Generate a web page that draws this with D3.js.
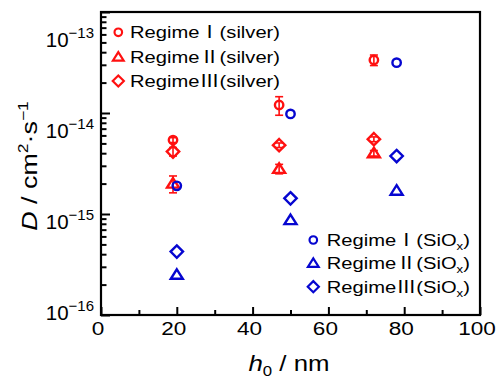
<!DOCTYPE html>
<html>
<head>
<meta charset="utf-8">
<script src="https://cdn.jsdelivr.net/npm/d3@7"></script>
<style>
  body { margin: 0; background: #fff; }
  svg { font-family: "Liberation Sans", Arial, sans-serif; }
</style>
</head>
<body>
<div id="chart"></div>
<script>
// values
var hSilver = [19, 47, 72];
var hSiOx = [20, 50, 78];
var silverI = [5.4e-15, 1.2e-14, 3.35e-14];
var silverIErr = [0.3e-15, 2.5e-15, 4e-15];
var silverII = [2.0e-15, 2.8e-15, 4.0e-15];
var silverIIErr = [0.38e-15, 0.3e-15, 0.25e-15];
var silverIII = [4.15e-15, 4.8e-15, 5.5e-15];
var silverIIIErr = [0.4e-15, 0.25e-15, 0.3e-15];
var siOxI = [1.9e-15, 9.8e-15, 3.15e-14];
var siOxII = [2.5e-16, 8.7e-16, 1.7e-15];
var siOxIII = [4.25e-16, 1.43e-15, 3.75e-15];

var xTicks = [0, 20, 40, 60, 80, 100];
var xMinor = [10, 30, 50, 70, 90];
var yTicks = [1e-16, 1e-15, 1e-14, 1e-13];
var yExp = ["\u221216", "\u221215", "\u221214", "\u221213"];
var regimes = ["\u2160", "\u2161", "\u2162"];
var shapes = ["circle", "triangle", "diamond"];

var red = "#ff1010", blue = "#0606d0";
var W = 499, H = 377;
var pLeft = 101, pRight = 480, pTop = 12, pBottom = 315;

var x = d3.scaleLinear().domain([0, 100]).range([pLeft, pRight]);
var y = d3.scaleLog().domain([1e-16, 1e-13]).range([pBottom, pTop]);
// tick labels in the picture sit on a slightly tighter spacing than the ticks
var yLab = d3.scaleLog().domain([1e-16, 1e-13]).range([320, 47]);

var svg = d3.select("#chart").append("svg")
  .attr("width", W).attr("height", H);

function marker(shape) {
  if (shape == "circle") return "M4.2,0A4.2,4.2 0 1 1 -4.2,0A4.2,4.2 0 1 1 4.2,0Z";
  if (shape == "triangle") return "M0,-5.5L6,4L-6,4Z";
  return "M0,-6.2L6.2,0L0,6.2L-6.2,0Z";
}

// stretched text helper, the picture's text is wider than normal Arial
function sText(g, px, py, size, sx) {
  return g.append("text")
    .attr("transform", "translate(" + px + "," + py + ") scale(" + sx + ",1)")
    .style("font-size", size + "px");
}

// axes
var xMaj = svg.append("g").attr("transform", "translate(0," + pBottom + ")")
  .call(d3.axisBottom(x).tickValues(xTicks).tickSize(-8).tickFormat(""));
var xMin = svg.append("g").attr("transform", "translate(0," + pBottom + ")")
  .call(d3.axisBottom(x).tickValues(xMinor).tickSize(-5).tickFormat(""));

var yMinorVals = [];
yTicks.slice(0, 3).forEach(function(d) {
  for (var k = 2; k < 10; k++) yMinorVals.push(d * k);
});
var yMaj = svg.append("g").attr("transform", "translate(" + pLeft + ",0)")
  .call(d3.axisLeft(y).tickValues(yTicks).tickSize(-9).tickFormat(""));
var yMin = svg.append("g").attr("transform", "translate(" + pLeft + ",0)")
  .call(d3.axisLeft(y).tickValues(yMinorVals).tickSize(-5.5).tickFormat(""));

[xMaj, xMin, yMaj, yMin].forEach(function(a) {
  a.select(".domain").remove();
  a.selectAll("line").attr("stroke", "#000").attr("stroke-width", 2);
});

svg.append("rect")
  .attr("x", pLeft).attr("y", pTop)
  .attr("width", pRight - pLeft).attr("height", pBottom - pTop)
  .attr("fill", "none").attr("stroke", "#000").attr("stroke-width", 2.2);

// x tick labels
xTicks.forEach(function(d) {
  sText(svg, x(d) - 3, 335, 18.5, 1.22)
    .attr("text-anchor", "middle").text(d);
});

// y tick labels
yTicks.forEach(function(d, i) {
  var t = svg.append("text")
    .attr("x", 94).attr("y", yLab(d))
    .attr("text-anchor", "end")
    .style("font-size", "20.5px");
  t.append("tspan").text("10");
  t.append("tspan").attr("dy", -9).style("font-size", "15px").text(yExp[i]);
});

// axis titles
var xt = sText(svg, 289, 371, 21.5, 1.2).attr("text-anchor", "middle");
xt.append("tspan").style("font-style", "italic").text("h");
xt.append("tspan").attr("dy", 5).style("font-size", "14px").text("0");
xt.append("tspan").attr("dy", -5).text(" / nm");

var yt = svg.append("text")
  .attr("transform", "translate(37,166) rotate(-90) scale(1.25,1)")
  .attr("text-anchor", "middle")
  .style("font-size", "21.5px");
yt.append("tspan").style("font-style", "italic").text("D");
yt.append("tspan").text(" / cm");
yt.append("tspan").attr("dy", -9).style("font-size", "14px").text("2");
yt.append("tspan").attr("dy", 9).text("\u00b7s");
yt.append("tspan").attr("dy", -9).style("font-size", "14px").text("\u22121");

// data
var silver = [
  { vals: silverI, err: silverIErr, shape: "circle" },
  { vals: silverII, err: silverIIErr, shape: "triangle" },
  { vals: silverIII, err: silverIIIErr, shape: "diamond" }
];
var siox = [
  { vals: siOxI, shape: "circle" },
  { vals: siOxII, shape: "triangle" },
  { vals: siOxIII, shape: "diamond" }
];

var plot = svg.append("g");

silver.forEach(function(s) {
  s.vals.forEach(function(v, i) {
    var cx = x(hSilver[i]);
    var y0 = y(v + s.err[i]), y1 = y(v - s.err[i]);
    plot.append("line").attr("x1", cx).attr("x2", cx).attr("y1", y0).attr("y2", y1)
      .attr("stroke", red).attr("stroke-width", 1.6);
    [y0, y1].forEach(function(yy) {
      plot.append("line").attr("x1", cx - 4).attr("x2", cx + 4).attr("y1", yy).attr("y2", yy)
        .attr("stroke", red).attr("stroke-width", 1.6);
    });
  });
  plot.selectAll(null).data(s.vals).enter().append("path")
    .attr("d", marker(s.shape))
    .attr("transform", function(d, i) { return "translate(" + x(hSilver[i]) + "," + y(d) + ")"; })
    .attr("fill", "none").attr("stroke", red).attr("stroke-width", 2.4);
});

siox.forEach(function(s) {
  plot.selectAll(null).data(s.vals).enter().append("path")
    .attr("d", marker(s.shape))
    .attr("transform", function(d, i) { return "translate(" + x(hSiOx[i]) + "," + y(d) + ")"; })
    .attr("fill", "none").attr("stroke", blue).attr("stroke-width", 2.4);
});

// legends
function legendRow(mx, my, tx, shape, color, numeral, tail, sub) {
  svg.append("path").attr("d", marker(shape))
    .attr("transform", "translate(" + mx + "," + my + ") scale(0.9)")
    .attr("fill", "none").attr("stroke", color).attr("stroke-width", 2.4);
  var t = sText(svg, tx, my + 6, 16.8, 1.2);
  t.append("tspan").text("Regime");
  t.append("tspan").style("font-family", "'Noto Sans CJK JP'").text(numeral);
  t.append("tspan").text(tail);
  if (sub) {
    t.append("tspan").attr("dy", 4).style("font-size", "11px").text(sub);
    t.append("tspan").attr("dy", -4).text(")");
  }
}

regimes.forEach(function(r, i) {
  legendRow(118.3, [32.3, 57, 81][i], 130, shapes[i], red, r, "(silver)");
  legendRow(313.3, [240, 263.3, 286.7][i], 326.7, shapes[i], blue, r, "(SiO", "x");
});
</script>
</body>
</html>
